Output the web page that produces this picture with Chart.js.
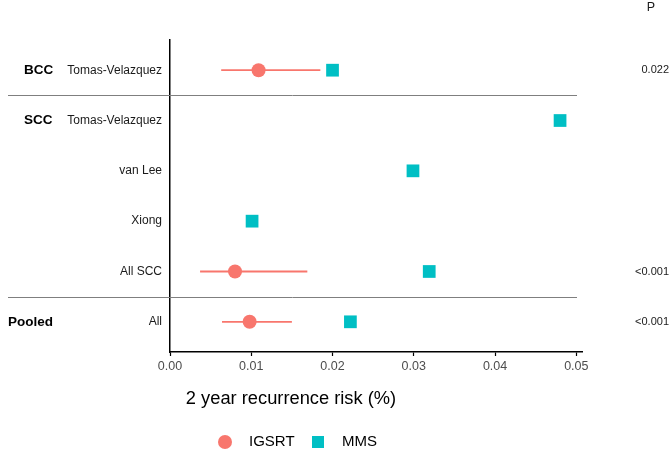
<!DOCTYPE html>
<html>
<head>
<meta charset="utf-8">
<script src="https://cdn.jsdelivr.net/npm/chart.js@4"></script>
<style>
  body { margin: 0; background: #fff; }
  canvas { display: block; }
</style>
</head>
<body>
<canvas id="forest" width="672" height="452"></canvas>
<script>
const groups = ["BCC", "SCC", "", "", "", "Pooled"];
const studies = ["Tomas-Velazquez", "Tomas-Velazquez", "van Lee", "Xiong", "All SCC", "All"];
const igsrt = [0.0109, null, null, null, 0.0080, 0.0098];
const igsrtLow = [0.0063, null, null, null, 0.0037, 0.0064];
const igsrtHigh = [0.0185, null, null, null, 0.0169, 0.0150];
const mms = [0.0200, 0.0480, 0.0299, 0.0101, 0.0319, 0.0222];
const pValues = ["0.022", "", "", "", "<0.001", "<0.001"];
const xTicks = [0, 0.01, 0.02, 0.03, 0.04, 0.05];

const RED = "#F8766D";
const TEAL = "#00BFC4";
const FONT = "'Liberation Sans', Arial, sans-serif";

const datasets = [];
datasets.push({
  label: "IGSRT",
  data: igsrt.map((v, i) => v === null ? null : { x: v, y: i }).filter(p => p),
  pointStyle: "circle",
  pointRadius: 7,
  backgroundColor: RED,
  borderWidth: 0,
  order: 1
});
datasets.push({
  label: "MMS",
  data: mms.map((v, i) => ({ x: v, y: i })),
  pointStyle: "rect",
  pointRadius: 9,
  backgroundColor: TEAL,
  borderWidth: 0,
  order: 1
});
// error bars for IGSRT
igsrt.forEach((v, i) => {
  if (v === null) return;
  datasets.push({
    label: "ci" + i,
    data: [{ x: igsrtLow[i], y: i }, { x: igsrtHigh[i], y: i }],
    showLine: true,
    borderColor: RED,
    borderWidth: 1.8,
    pointRadius: 0,
    order: 2
  });
});

const labelsPlugin = {
  id: "forestLabels",
  afterDraw(chart) {
    const ctx = chart.ctx;
    const y = chart.scales.y;
    ctx.save();

    // separators between groups
    ctx.strokeStyle = "#7f7f7f";
    ctx.lineWidth = 1;
    groups.forEach((g, i) => {
      if (i === 0 || g === "") return;
      const py = Math.round(y.getPixelForValue(i - 0.5)) + 0.5;
      ctx.beginPath();
      ctx.moveTo(8, py);
      ctx.lineTo(577, py);
      ctx.stroke();
    });

    ctx.textBaseline = "middle";
    // group labels
    ctx.fillStyle = "#000";
    ctx.textAlign = "left";
    groups.forEach((g, i) => {
      if (!g) return;
      ctx.font = "bold 13.5px " + FONT;
      const gx = g === "Pooled" ? 8 : 24;
      ctx.fillText(g, gx, y.getPixelForValue(i));
    });

    // study labels
    ctx.font = "12px " + FONT;
    ctx.fillStyle = "#1a1a1a";
    ctx.textAlign = "right";
    studies.forEach((s, i) => {
      ctx.fillText(s, 162, y.getPixelForValue(i));
    });

    // p values
    ctx.font = "11px " + FONT;
    pValues.forEach((p, i) => {
      if (!p) return;
      ctx.fillText(p, 669, y.getPixelForValue(i));
    });
    ctx.textAlign = "center";
    ctx.font = "12.5px " + FONT;
    ctx.fillText("P", 651, 8);

    // axis title
    ctx.fillStyle = "#000";
    ctx.font = "18.3px " + FONT;
    ctx.fillText("2 year recurrence risk (%)", 291, 399);

    // legend
    ctx.font = "15px " + FONT;
    ctx.textAlign = "left";
    ctx.fillStyle = RED;
    ctx.beginPath();
    ctx.arc(225, 442, 7, 0, Math.PI * 2);
    ctx.fill();
    ctx.fillStyle = "#000";
    ctx.fillText("IGSRT", 249, 442);
    ctx.fillStyle = TEAL;
    ctx.fillRect(312, 436, 12, 12);
    ctx.fillStyle = "#000";
    ctx.fillText("MMS", 342, 442);

    ctx.restore();
  }
};

new Chart(document.getElementById("forest"), {
  type: "scatter",
  data: { datasets },
  options: {
    responsive: false,
    animation: false,
    layout: { padding: { top: 40, right: 90, left: 0, bottom: 0 } },
    plugins: {
      legend: { display: false },
      tooltip: { enabled: false }
    },
    scales: {
      x: {
        type: "linear",
        min: 0,
        max: 0.0507,
        afterFit: s => { s.height = 100; },
        afterBuildTicks: s => { s.ticks = xTicks.map(v => ({ value: v })); },
        ticks: {
          includeBounds: false,
          padding: 3,
          color: "#4d4d4d",
          font: { size: 12.5, family: FONT },
          callback: v => Number(v).toFixed(2)
        },
        grid: {
          drawOnChartArea: false,
          drawTicks: true,
          tickLength: 4,
          tickColor: "#000",
          tickWidth: 1.2
        },
        border: { display: true, color: "#000", width: 1.5 }
      },
      y: {
        type: "linear",
        min: -0.6,
        max: 5.6,
        reverse: true,
        afterFit: s => { s.width = 170; },
        ticks: { display: false },
        grid: { display: false, drawTicks: false },
        border: { display: true, color: "#000", width: 1.5 }
      }
    }
  }
  ,
  plugins: [labelsPlugin]
});
</script>
</body>
</html>
